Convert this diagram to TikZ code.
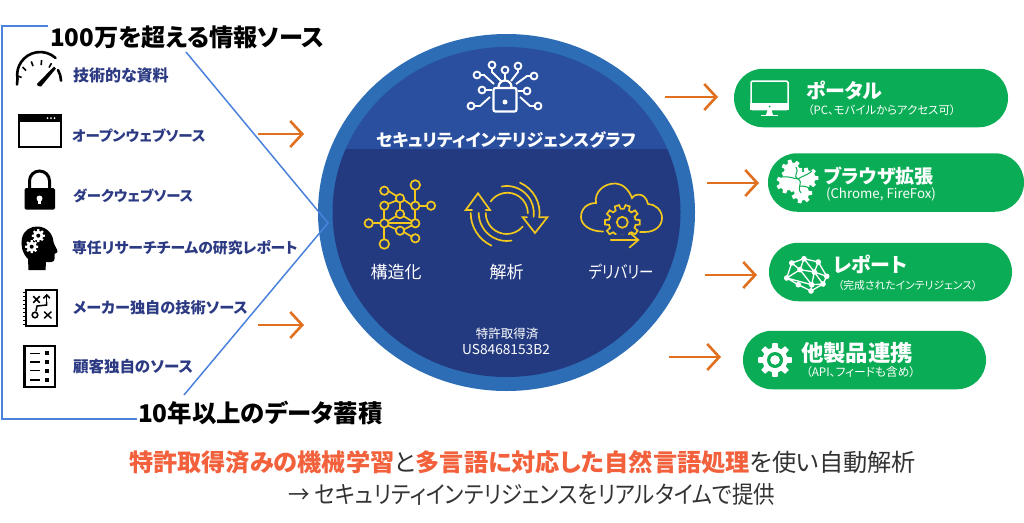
\documentclass[tikz,border=0pt]{standalone}
\usepackage{fontspec}
\setmainfont{Noto Sans CJK JP}[RawFeature=+palt]
\usetikzlibrary{arrows.meta,shapes.geometric}
\definecolor{ringblue}{HTML}{2C6DB6}
\definecolor{topblue}{HTML}{2A4F9F}
\definecolor{lowblue}{HTML}{243A80}
\definecolor{linkblue}{HTML}{4A82DC}
\definecolor{arroworange}{HTML}{E0701F}
\definecolor{pillgreen}{HTML}{0AAD55}
\definecolor{navy}{HTML}{2B3A82}
\definecolor{iconyellow}{HTML}{F2C81E}
\definecolor{hot}{HTML}{F2613C}
\definecolor{greytext}{HTML}{333333}
\newcommand{\fz}[1]{\fontsize{#1}{#1}\selectfont}
\newcommand{\gearpath}[6]{%
  \pgfmathsetmacro{\gs}{360/#4}%
  \pgfmathtruncatemacro{\gn}{#4-1}%
  \path[#1,shift={(#2,#3)}] ({-0.2*\gs}:#6)
    \foreach \k in {0,...,\gn} {
      -- ({(\k+0.2)*\gs}:#6) -- ({(\k+0.32)*\gs}:#5)
      -- ({(\k+0.68)*\gs}:#5) -- ({(\k+0.8)*\gs}:#6)
    } -- cycle;%
}
\tikzset{
  px/.style={inner sep=0pt,outer sep=0pt},
  srcitem/.style={px,anchor=west,text=navy},
  headline/.style={px,anchor=west,text=black},
  ringtext/.style={px,text=white},
  pill/.style={px,fill=pillgreen,rounded corners=29pt,minimum height=58.5pt},
  pilltitle/.style={px,anchor=west,text=white},
  pillsub/.style={px,anchor=west,text=white},
  orangearrow/.style={draw=arroworange,line width=2.6pt,-{Straight Barb[length=12pt,width=26pt,line width=2.6pt]}},
  bluelink/.style={draw=linkblue,line width=1.5pt},
  yellowline/.style={draw=iconyellow,line width=1.7pt},
  whiteline/.style={draw=white,line width=1.9pt},
}
\begin{document}
\begin{tikzpicture}[x=1pt,y=1pt,yscale=-1]
\useasboundingbox (0,0) rectangle (1024,522);
\fill[white] (0,0) rectangle (1024,522);

% ---- graph ring
\node[px,ellipse,fill=ringblue,minimum width=377pt,minimum height=357pt] (ring) at (506.5,212.5) {};
\begin{scope}
  \clip (506.5,212) ellipse [x radius=174,y radius=165];
  \fill[topblue] (300,40) rectangle (700,149);
  \fill[lowblue] (300,149) rectangle (700,390);
\end{scope}

% ---- lock network icon
\begin{scope}[whiteline]
  \foreach \x/\y in {492/65,505/70,518/66,477/75,534/76,482/90,527/91,471/106,538/106}
    \draw (\x,\y) circle[radius=3.4];
  \draw (492,68.5) -- (492,72) -- (502,82);
  \draw (505,73.5) -- (505,80);
  \draw (518,69.5) -- (518,72) -- (511,81);
  \draw (480.5,75) -- (484,75) -- (494,84);
  \draw (530.5,76) -- (527,76) -- (516,84);
  \draw (485.5,90) -- (492,90);
  \draw (523.5,91) -- (518,91);
  \draw (474.5,106) -- (480,106) -- (490,97);
  \draw (534.5,106) -- (530,106) -- (520,97);
  \draw[rounded corners=2pt,line width=2.2pt] (493.5,88) rectangle (516.5,111.5);
  \draw[line width=2.2pt] (498.5,88) -- (498.5,87) arc[start angle=180,end angle=360,radius=6.5] -- (511.5,88);
  \fill[white,draw=none] (505,102) circle[radius=2.5];
\end{scope}

% ---- network icon
\begin{scope}[yellowline]
  \draw (415.3,188.7) -- (415.3,202);
  \draw (388,190.7) -- (396.5,196) (403.5,199.5) -- (411.5,205);
  \draw (400,202) -- (400,210.3);
  \draw (384.3,209.4) -- (384.3,219.5);
  \draw (415.3,209.4) -- (415.3,219.5);
  \draw (419,205.7) -- (427.3,205.7);
  \draw (387.8,204) -- (396.5,200.5);
  \draw (372.4,223.3) -- (380.6,223.3);
  \draw (388,223.3) -- (411.6,223.3);
  \draw (388,221) -- (396.5,216) (403.5,216) -- (411.6,221);
  \draw (388,225.5) -- (396.5,229.5) (403.7,229.5) -- (411.6,225.5);
  \draw (384.3,227) -- (384.3,240.3);
  \draw (403.7,232) -- (411.6,236.5);
  \foreach \x/\y in {384.3/190.7,400/198.3,384.3/205.7,415.3/205.7,431/205.7,400/214,368.7/223.3,384.3/223.3,415.3/223.3,400/230.7,415.3/238.3}
    \draw (\x,\y) circle[radius=4.2];
  \draw (384.3,244) circle[radius=4.8];
  \draw (415.3,185) circle[radius=4.8];
\end{scope}

% ---- cycle icon
\begin{scope}[yellowline,line cap=round,line join=miter]
  \draw (490.6,201.5) arc[start angle=215,end angle=360,radius=20.5];
  \draw (501.7,186.5) arc[start angle=259,end angle=368,radius=27];
  \draw (520,182.7) arc[start angle=294,end angle=368,radius=33];
  \draw (485.7,213) arc[start angle=180,end angle=40,radius=21];
  \draw (478.7,213) arc[start angle=180,end angle=80,radius=28];
  \draw (470.7,213) arc[start angle=180,end angle=115,radius=36];
  \draw (472,210) -- (465.7,210) -- (478,193.3) -- (490,210) -- (485.7,210);
  \draw (527,217.3) -- (522.7,217.3) -- (535,233) -- (547.3,217.3) -- (540.5,217.3);
\end{scope}

% ---- cloud icon
\begin{scope}[yellowline,line cap=round]
  \draw (603,231.5) .. controls (590,231.5) and (581,225) .. (581,217) .. controls (581,208) and (588,203) .. (596,203)
    .. controls (594,192) and (604,183) .. (616,183.5) .. controls (623,184) and (629,190) .. (632,198)
    .. controls (634,194) and (645,191) .. (648,204) .. controls (655,204) and (662,210) .. (662,218)
    .. controls (662,226) and (655,232) .. (645,232) -- (640,232);
  \gearpath{draw=iconyellow,line width=1.7pt,fill=lowblue}{622.3}{222.3}{10}{13.5}{17.5}
  \fill[lowblue,draw=none] (607,235) rectangle (641,245);
  \draw (622.3,222.3) circle[radius=5.5];
  \draw (610.7,240) -- (638.3,240);
  \draw (629.5,232.5) -- (638.3,240) -- (629.5,247.5);
\end{scope}

% ---- texts in ring
\node[ringtext,font=\fz{17}\bfseries] (graphname) at (506,140) {セキュリティインテリジェンスグラフ};
\node[ringtext,font=\fz{17}] (lab1) at (396,272) {構造化};
\node[ringtext,font=\fz{17}] (lab2) at (506.5,272) {解析};
\node[ringtext,font=\fz{17}] (lab3) at (621,272) {\scalebox{0.85}[1]{デリバリー}};
\node[ringtext,font=\fz{12.5}] (pat1) at (507,334) {特許取得済};
\node[ringtext,font=\fz{13.7}] (pat2) at (506,349) {US8468153B2};

% ---- bracket and diagonal
\node[headline,font=\fz{24.2}\bfseries] (head1) at (50,37) {100万を超える情報ソース};
\node[headline,font=\fz{24.4}\bfseries] (head2) at (138,413) {10年以上のデータ蓄積};
\coordinate (tl) at (2,26);
\coordinate (tlEnd) at (48,26);
\coordinate (bl) at (2,419);
\coordinate (blEnd) at (137,419);
\coordinate (dA) at (186,52);
\coordinate (dB) at (328,223);
\coordinate (dC) at (184,395);
\draw[bluelink,line width=2pt,line join=miter] (tlEnd) -- (tl) -- (bl) -- (blEnd);
\draw[bluelink,line join=miter] (dA) -- (dB) -- (dC);

% ---- source icons
% gauge
\draw[line width=2.6pt,line cap=round] (17,84.5) -- (17.5,79) arc[start angle=170,end angle=312,radius=23];
\draw[line width=2.6pt,line cap=round] (58,70) arc[start angle=330,end angle=358,radius=23];
\foreach \a in {200,225,250,275,300} \draw[line width=1.6pt] (39.5,84)++(\a:19) -- ++(\a:5);
\fill (37,84) -- (54,66.5) -- (56,68.5) -- (41,86.5) -- (38,86) -- cycle;
% window
\draw[line width=2pt] (19,115) rectangle (60.5,146.5);
\fill (18,114) rectangle (61.5,122);
\foreach \x in {47.5,51,54.5} \fill[white] (\x,118) circle[radius=1];
% padlock
\draw[line width=3pt] (29.5,190) -- (29.5,181) arc[start angle=180,end angle=360,radius=10] -- (49.5,190);
\fill[rounded corners=1.5pt] (24.5,188) rectangle (55,209.5);
\fill[white] (39.5,198.5) circle[radius=3];
\fill[white] (38.3,199) rectangle (40.7,204);
% head
\fill (28.5,270) -- (28,259) .. controls (22,253) and (20.5,245) .. (22,238)
  .. controls (24,230) and (31,226) .. (38,226.5) .. controls (47,227) and (53,234) .. (53.5,242)
  .. controls (54,245) and (58,250) .. (57.5,252) .. controls (57,253) and (55,253.5) .. (54.5,254)
  -- (54.5,259) .. controls (54.5,262) and (51,262.5) .. (46,262) -- (45.5,270) -- cycle;
\gearpath{fill=white}{38.3}{235.7}{8}{4.8}{6.6}
\gearpath{fill=white}{31.7}{246.7}{8}{4.8}{6.6}
\fill (38.3,235.7) circle[radius=2];
\fill (31.7,246.7) circle[radius=2];
% notebook
\draw[line width=2pt] (25.5,290) rectangle (57,325.5);
\foreach \y in {292,296,...,324} \draw[line width=1pt] (22.5,\y) -- (26,\y);
\begin{scope}[line width=1.5pt,line cap=round]
  \draw (33.5,296.5) -- (39.5,302.5) (39.5,296.5) -- (33.5,302.5);
  \draw (46.7,305) -- (46.7,295.5);
  \draw (43.7,298) -- (46.7,295) -- (49.7,298);
  \draw (46.7,302) -- (46.7,305) -- (37,306) -- (36,311);
  \draw (35,315) circle[radius=2.8];
  \draw (44.5,312) -- (51,318) (51,312) -- (44.5,318);
\end{scope}
% list
\draw[line width=2.5pt] (24.5,346) rectangle (55,387);
\foreach \y in {353.3,362,370.7,380} {
  \draw[line width=1.5pt] (30,\y) -- (40,\y);
  \fill (44.7,\y-2) rectangle (48.7,\y+2);
}

% ---- source labels
\node[srcitem,font=\fz{16}\bfseries] (s1) at (73,75) {技術的な資料};
\node[srcitem,font=\fz{14.5}\bfseries] (s2) at (72,136) {オープンウェブソース};
\node[srcitem,font=\fz{14.4}\bfseries] (s3) at (73,196) {ダークウェブソース};
\node[srcitem,font=\fz{14.85}\bfseries] (s4) at (72,248) {専任リサーチチームの研究レポート};
\node[srcitem,font=\fz{15.2}\bfseries] (s5) at (73,308) {メーカー独自の技術ソース};
\node[srcitem,font=\fz{15.5}\bfseries] (s6) at (73,367) {顧客独自のソース};

% ---- orange arrows
\coordinate (a1s) at (258,134); \coordinate (a1e) at (304,134);
\coordinate (a2s) at (258,325); \coordinate (a2e) at (304,325);
\coordinate (a3s) at (665,97);  \coordinate (a3e) at (718,97);
\coordinate (a4s) at (707,183); \coordinate (a4e) at (759,183);
\coordinate (a5s) at (705,275); \coordinate (a5e) at (757,275);
\coordinate (a6s) at (669,357); \coordinate (a6e) at (721,357);
\foreach \n in {1,...,6} \draw[orangearrow] (a\n s) -- (a\n e);

% ---- pills
\node[pill,minimum width=274pt] (p1) at (871,98) {};
\node[pill,minimum width=256pt] (p2) at (896,182.5) {};
\node[pill,minimum width=243pt] (p3) at (890.5,272) {};
\node[pill,minimum width=243pt] (p4) at (864.5,360) {};

\node[pilltitle,font=\fz{20}\bfseries] (t1) at (806,91) {ポータル};
\node[pillsub,font=\fz{11.4}] (u1) at (808,110) {（PC、モバイルからアクセス可）};
\node[pilltitle,font=\fz{19}\bfseries] (t2) at (824,176) {ブラウザ拡張};
\node[pillsub,font=\fz{13.3}] (u2) at (826,194) {(Chrome, FireFox)};
\node[pilltitle,font=\fz{20}\bfseries] (t3) at (833,264) {レポート};
\node[pillsub,font=\fz{10.8}] (u3) at (838,285) {（完成されたインテリジェンス）};
\node[pilltitle,font=\fz{22.4}\bfseries] (t4) at (801,353) {他製品連携};
\node[pillsub,font=\fz{11.7}] (u4) at (806,372) {（API、フィードも含め）};

% monitor
\draw[white,line width=1.5pt,rounded corners=1.5pt] (751,81) rectangle (788,109.5);
\fill[white] (750.3,103) rectangle (788.7,110);
\fill[pillgreen] (769.5,106.5) circle[radius=1];
\fill[white] (767.5,110) -- (771.5,110) -- (773,115) -- (766,115) -- cycle;
\fill[white] (761,114.5) rectangle (777.5,116);
% puzzle
\gearpath{fill=white}{791.7}{170}{7}{7.5}{10.5}
\gearpath{fill=white}{808}{178}{7}{7.5}{10.5}
\gearpath{fill=white}{786.7}{183}{7}{7.5}{10.5}
\gearpath{fill=white}{801.7}{193}{7}{7.5}{10.5}
\fill[white] (793,172) rectangle (804,188);
\draw[pillgreen,line width=1pt] (796,167) .. controls (800,172) and (792,175) .. (798,179) .. controls (804,183) and (796,187) .. (801,193)
  (782,177) .. controls (788,176) and (792,178) .. (798,179) .. controls (802,176) and (806,176) .. (812,171)
  (799,186) .. controls (803,186) and (808,186) .. (811,190);
% brain
\foreach \a/\b in {791.7/263,804/258.7,818.3/262,826.7/276.3,823/284,811/291,786.7/278,798.3/284.7,811.7/284.7,814.3/272,800/269.7}
  \fill[white] (\a,\b) circle[radius=2.8];
\draw[white,line width=1.3pt,line join=round]
  (791.7,263) -- (804,258.7) -- (818.3,262) -- (826.7,276.3) -- (823,284) -- (811,291) -- (798.3,284.7) -- (786.7,278) -- cycle
  (791.7,263) -- (800,269.7) -- (814.3,272) -- (826.7,276.3)
  (804,258.7) -- (800,269.7) -- (786.7,278)
  (818.3,262) -- (814.3,272) -- (811.7,284.7) -- (811,291)
  (800,269.7) -- (811.7,284.7) -- (823,284)
  (786.7,278) -- (811.7,284.7)
  (804,258.7) -- (814.3,272) -- (823,284);
% gear
\gearpath{fill=white}{775}{360}{8}{12.5}{17}
\fill[pillgreen] (775,360) circle[radius=8];
\fill[white] (775,360) circle[radius=4.8];

% ---- bottom text
\node[px,font=\fz{24.2},text=greytext] (line1) at (522.5,462) {\textcolor{hot}{\bfseries 特許取得済みの機械学習}と\textcolor{hot}{\bfseries 多言語に対応した自然言語処理}を使い自動解析};
\node[px,font=\fz{24},text=greytext] (line2) at (532,494) {\scalebox{0.895}[1]{→ セキュリティインテリジェンスをリアルタイムで提供}};
\end{tikzpicture}
\end{document}
